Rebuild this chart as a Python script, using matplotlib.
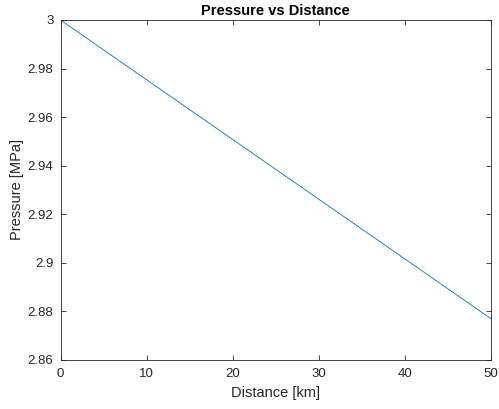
import matplotlib
matplotlib.use("Agg")
import matplotlib.pyplot as plt

distance_km = [0, 10, 20, 30, 40, 50]
pressure_mpa = [3.0, 2.9754, 2.9508, 2.9262, 2.9016, 2.877]
x_ticks = [0, 10, 20, 30, 40, 50]
y_ticks = [2.86, 2.88, 2.9, 2.92, 2.94, 2.96, 2.98, 3.0]
y_tick_labels = ["2.86", "2.88", "2.9", "2.92", "2.94", "2.96", "2.98", "3"]

plt.rcParams['font.family'] = ['Liberation Sans', 'DejaVu Sans']
fig = plt.figure(figsize=(4.99, 4.09), dpi=100)
ax = fig.add_axes([60.5/499, 49/409, 430.5/499, 340/409])
ax.plot(distance_km, pressure_mpa, color='#0072BD', linewidth=0.6)
ax.set_xlim(0, 50)
ax.set_ylim(2.86, 3.0)
ax.set_xticks(x_ticks)
ax.set_yticks(y_ticks)
ax.set_yticklabels(y_tick_labels)
for s in ax.spines.values():
    s.set_color('#262626')
    s.set_linewidth(0.6)
ax.tick_params(direction='in', top=True, right=True, length=3.5, width=0.6,
               colors='#262626', labelsize=9.5)
ax.tick_params(axis='x', pad=6)
ax.tick_params(axis='y', pad=5)
ax.set_xlabel('Distance [km]', fontsize=10.5, color='#262626', labelpad=4)
ax.set_ylabel('Pressure [MPa]', fontsize=10.5, color='#262626', labelpad=3)
ax.set_title('Pressure vs Distance', fontsize=10.5, fontweight='bold', color='black', pad=3.5)
fig.savefig('out.png', dpi=100)
